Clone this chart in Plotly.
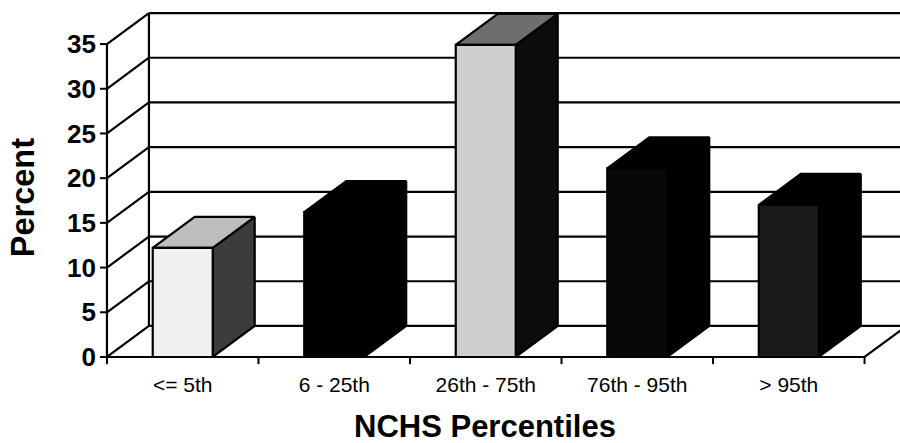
import plotly.graph_objects as go

# ---- data ----
categories = ["<= 5th", "6 - 25th", "26th - 75th", "76th - 95th", "> 95th"]
percent = [12.2, 16.2, 34.9, 21.1, 17.0]
y_ticks = [0, 5, 10, 15, 20, 25, 30, 35]

# ---- styling / pseudo-3D geometry ----
front_colors = ["#f0f0f0", "#000000", "#cfcfcf", "#080808", "#1a1a1a"]
side_colors = ["#3c3c3c", "#000000", "#0c0c0c", "#000000", "#000000"]
top_colors = ["#bdbdbd", "#000000", "#6e6e6e", "#000000", "#000000"]
DX = 0.277   # depth offset in x units
DY = 3.47    # depth offset in y units
BW = 0.396   # bar width
X0 = -0.5
XN = len(categories) - 0.5
LW = 2.2

fig = go.Figure()

def line(xs, ys, width=LW):
    fig.add_trace(go.Scatter(x=xs, y=ys, mode="lines",
                             line=dict(color="black", width=width),
                             hoverinfo="skip", showlegend=False))

def poly(xs, ys, fill):
    fig.add_trace(go.Scatter(x=xs + [xs[0]], y=ys + [ys[0]], mode="lines",
                             fill="toself", fillcolor=fill,
                             line=dict(color="black", width=LW),
                             hoverinfo="skip", showlegend=False))

ymax = y_ticks[-1]
# back wall gridlines
for v in y_ticks:
    line([X0 + DX, XN + DX], [v + DY, v + DY])
# back wall left edge
line([X0 + DX, X0 + DX], [DY, ymax + DY])
# left wall diagonals
for v in y_ticks:
    line([X0, X0 + DX], [v, v + DY])
# front vertical axis
line([X0, X0], [0, ymax])
# y ticks (outward)
for v in y_ticks:
    line([X0 - 0.046, X0], [v, v], width=2)
# floor front edge and right diagonal
line([X0, XN], [0, 0])
line([XN, XN + DX], [0, DY])
# x boundary ticks
for k in range(len(categories) + 1):
    b = X0 + k
    line([b, b], [0, -0.8], width=2)

# bars
for i, v in enumerate(percent):
    l, r = i - BW / 2, i + BW / 2
    poly([r, r + DX, r + DX, r], [0, DY, v + DY, v], side_colors[i])
    poly([l, l + DX, r + DX, r], [v, v + DY, v + DY, v], top_colors[i])
    poly([l, r, r, l], [0, 0, v, v], front_colors[i])

fig.update_layout(
    width=900, height=443,
    margin=dict(l=100, r=0, t=10, b=76),
    paper_bgcolor="white", plot_bgcolor="white",
    font=dict(family="Liberation Sans, Arial, sans-serif", color="black"),
    xaxis=dict(range=[-0.546, 4.734], showgrid=False, zeroline=False,
               showline=False, tickmode="array",
               tickvals=list(range(len(categories))), ticktext=categories,
               ticks="", tickfont=dict(size=21),
               ticklabelstandoff=3, fixedrange=True),
    yaxis=dict(range=[-1.12, 38.81], showgrid=False, zeroline=False,
               showline=False, tickmode="array", tickvals=y_ticks,
               ticktext=[str(v) for v in y_ticks], ticks="",
               tickfont=dict(size=26, weight="bold"),
               ticklabelstandoff=3, fixedrange=True),
    annotations=[
        dict(text="<b>NCHS Percentiles</b>", xref="paper", yref="paper",
             x=0.481, y=-0.168, xanchor="center", yanchor="middle",
             showarrow=False, font=dict(size=31)),
        dict(text="<b>Percent</b>", xref="paper", yref="paper",
             x=-0.097, y=0.474, xanchor="center", yanchor="middle",
             textangle=-90, showarrow=False, font=dict(size=32.5)),
    ],
)

fig.write_html("out.html", config={"displayModeBar": False},
               post_script="document.body.style.margin='0px';")
